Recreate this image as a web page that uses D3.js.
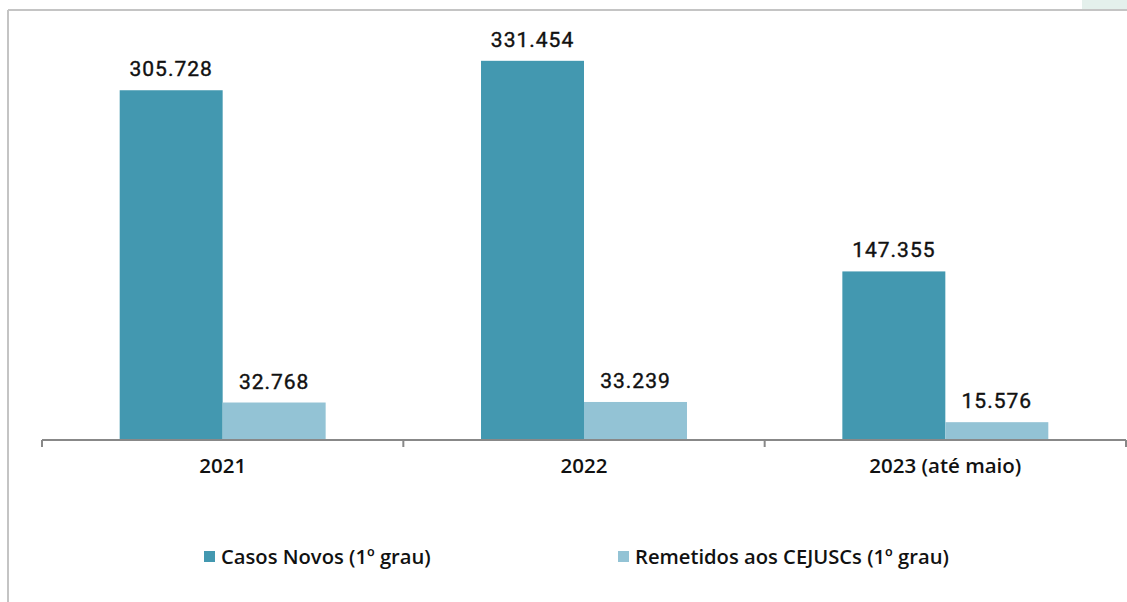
<!DOCTYPE html>
<html><head><meta charset="utf-8">
<script src="https://cdn.jsdelivr.net/npm/d3@7"></script>
<style>body{margin:0;background:#fff;} svg{display:block;}</style>
</head><body>
<script>
const categories = ["2021", "2022", "2023 (até maio)"];
const seriesNames = ["Casos Novos (1º grau)", "Remetidos aos CEJUSCs (1º grau)"];
const casosNovos = [305728, 331454, 147355];
const remetidos = [32768, 33239, 15576];
const valueLabels = [["305.728","331.454","147.355"],["32.768","33.239","15.576"]];
const colors = ["#4398B0", "#93C3D5"];

const W = 1127, H = 602;
const svg = d3.select("body").append("svg").attr("width", W).attr("height", H);

// frame
svg.append("rect").attr("x", 1082).attr("y", 0).attr("width", 45).attr("height", 9).attr("fill", "#E4F0EC");
svg.append("line").attr("x1", 8).attr("x2", W).attr("y1", 10).attr("y2", 10).attr("stroke", "#c4c4c4").attr("stroke-width", 2);
svg.append("line").attr("x1", 8).attr("x2", 8).attr("y1", 10).attr("y2", H).attr("stroke", "#c4c4c4").attr("stroke-width", 2);

const x0 = d3.scaleBand().domain(categories).range([42, 1126]).paddingInner(0).paddingOuter(0);
const groupPad = 0.215;
const x1 = d3.scaleBand().domain([0, 1]).range([x0.bandwidth()*groupPad, x0.bandwidth()*(1-groupPad)]);
const y = d3.scaleLinear().domain([0, 350000]).range([440, 39.6]);

const series = [casosNovos, remetidos];
const g = svg.append("g");
categories.forEach((c, i) => {
  series.forEach((s, j) => {
    const bx = x0(c) + x1(j);
    g.append("rect").attr("x", bx).attr("y", y(s[i])).attr("width", x1.bandwidth()).attr("height", y(0) - y(s[i])).attr("fill", colors[j]);
    g.append("text").attr("x", bx + x1.bandwidth()/2).attr("y", y(s[i]) - 14)
      .attr("text-anchor", "middle").attr("font-family", "Roboto, sans-serif").attr("font-weight", 400)
      .attr("font-size", 21).attr("letter-spacing", 1).attr("stroke", "#111").attr("stroke-width", 0.4)
      .attr("fill", "#111").text(valueLabels[j][i]);
  });
});

// axis
const axis = d3.axisBottom(x0).tickSize(0).tickPadding(18);
const ax = svg.append("g").attr("transform", "translate(0,440)").call(axis);
ax.select(".domain").attr("stroke", "#888").attr("stroke-width", 2).attr("d", "M42,0H1126");
ax.selectAll("text").attr("y", 33).attr("dy", 0).attr("font-family", "'Open Sans', sans-serif").attr("font-weight", 600).attr("font-size", 20.5).attr("fill", "#111");
const bounds = [42].concat(categories.map(c => x0(c) + x0.bandwidth()));
ax.selectAll(".sep").data(bounds).enter().append("line").attr("class","sep")
  .attr("x1", d => d).attr("x2", d => d).attr("y1", 0).attr("y2", 7).attr("stroke", "#888").attr("stroke-width", 2);

// legend
const legX = [204, 618];
seriesNames.forEach((n, j) => {
  svg.append("rect").attr("x", legX[j]).attr("y", 551).attr("width", 11).attr("height", 11).attr("fill", colors[j]);
  svg.append("text").attr("x", legX[j] + 17).attr("y", 564).attr("font-family", "'Open Sans', sans-serif").attr("font-weight", 600)
    .attr("font-size", 20.2).attr("fill", "#111").text(n);
});
</script>
</body></html>
